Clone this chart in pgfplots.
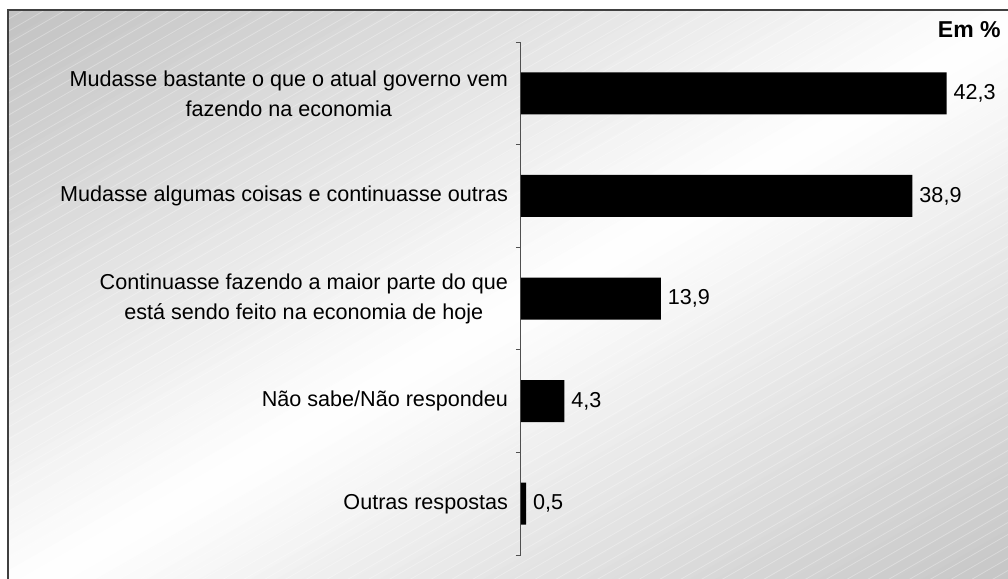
\documentclass[border=0pt]{standalone}
\usepackage{fontspec}
\setmainfont{Liberation Sans}
\usepackage{pgfplots}
\pgfplotsset{compat=1.18}

\definecolor{framegray}{HTML}{404040}
\definecolor{axisgray}{HTML}{505050}

\begin{document}
\begin{tikzpicture}
% canvas: 1 px of the reference = 0.5pt
\useasboundingbox (0,0) rectangle (504pt,-289.5pt);
\clip (0,0) rectangle (504pt,-289.5pt);
% background panel: diagonal gray-white-gray gradient drawn as bands
\begin{scope}
\clip (4pt,-5pt) rectangle (520pt,-300pt);
\foreach \i in {0,...,79} {
  \pgfmathsetmacro\xa{4+\i/40*516}
  \pgfmathsetmacro\xb{4+(\i+1.3)/40*516}
  \pgfmathsetmacro\ya{-5-\i/40*295}
  \pgfmathsetmacro\yb{-5-(\i+1.3)/40*295}
  \pgfmathsetmacro\k{24*abs((\i+0.5)/40-1)}
  \fill[black!\k] (\xa pt,-5pt) -- (\xb pt,-5pt) -- (4pt,\yb pt) -- (4pt,\ya pt) -- cycle;
}
\foreach \c in {0,6,...,600} {
  \draw[white, line width=0.4pt, opacity=0.3] (0,-\c pt) -- (520pt,-\c pt+300pt);
}
\end{scope}
\draw[framegray, line width=0.9pt] (4pt,-5pt) rectangle (520pt,-300pt);

\node[anchor=east, inner sep=0pt, font=\fontsize{11.5}{13}\selectfont\bfseries] at (500.5pt,-15pt) {Em \%};

\begin{axis}[
  at={(260.5pt,-277.5pt)}, anchor=south west,
  scale only axis, width=241.5pt, height=256.5pt,
  xbar, bar width=21pt,
  xmin=0, xmax=48,
  ymin=-0.5, ymax=4.5, y dir=reverse,
  axis x line=none,
  axis y line*=left,
  axis line style={axisgray, line width=0.5pt},
  ytick={-0.5,0.5,1.5,2.5,3.5,4.5},
  yticklabels={},
  tick align=outside,
  major tick length=2.5pt,
  tick style={axisgray, line width=0.5pt},
  extra y ticks={0,1,2,3,4},
  extra y tick labels={
    {Mudasse bastante o que o atual governo vem\\fazendo na economia},
    {Mudasse algumas coisas e continuasse outras},
    {Continuasse fazendo a maior parte do que\\está sendo feito na economia de hoje},
    {Não sabe/Não respondeu},
    {Outras respostas}},
  extra y tick style={major tick length=0pt},
  yticklabel style={align=center, font=\fontsize{10.8}{15}\selectfont, xshift=-3pt},
  nodes near coords,
  nodes near coords style={font=\fontsize{10.8}{12}\selectfont, black},
  /pgf/number format/.cd, use comma, fixed, fixed zerofill, precision=1, assume math mode=true,
  /pgfplots/.cd,
]
\addplot[fill=black, draw=none] coordinates {(42.3,0) (38.9,1) (13.9,2) (4.3,3) (0.5,4)};
\end{axis}
\end{tikzpicture}
\end{document}
